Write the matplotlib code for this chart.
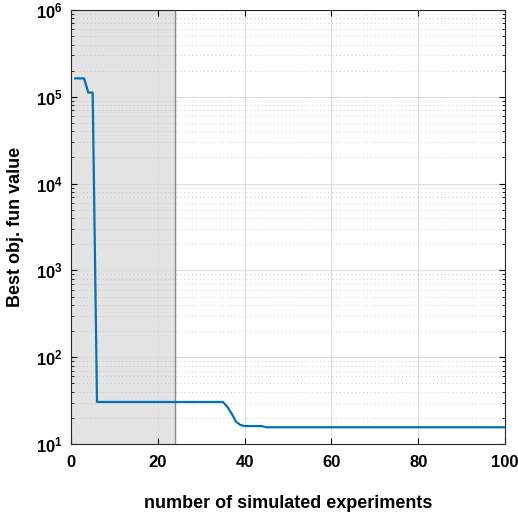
import matplotlib.pyplot as plt
from matplotlib.ticker import LogLocator, NullFormatter

plt.rcParams['font.family'] = ['Liberation Sans', 'DejaVu Sans']

# breakpoints of the best-so-far curve (linear in between)
exp_idx = [1, 3, 4, 5, 6, 35, 36, 37, 38, 39, 40, 44, 45, 100]
best_val = [1.63e5, 1.63e5, 1.12e5, 1.12e5, 30.5, 30.5, 26.9, 22.5, 18.1,
            16.6, 16.1, 16.1, 15.6, 15.6]

init_end = 24  # end of initial design phase

fig = plt.figure(figsize=(5.18, 5.16), dpi=100)
ax = fig.add_axes([0.137, 0.1395, 0.838, 0.8411])

ax.axvspan(0, init_end, color='#e3e3e3', zorder=0)
ax.axvline(init_end, color='#8c8c8c', lw=1.0, zorder=1)

ax.plot(exp_idx, best_val, color='#0072BD', lw=1.6, zorder=3)

ax.set_yscale('log')
ax.set_xlim(0, 100)
ax.set_ylim(10, 1e6)
ax.set_xticks([0, 20, 40, 60, 80, 100])
ax.yaxis.set_major_locator(LogLocator(base=10, numticks=10))
ax.yaxis.set_minor_locator(LogLocator(base=10, subs=range(2, 10), numticks=20))
ax.yaxis.set_minor_formatter(NullFormatter())

ax.grid(True, which='major', color='#dedede', lw=0.8)
ax.grid(True, which='minor', axis='y', color='#c8c8c8', lw=0.7, linestyle=(0, (1, 3)))
ax.set_axisbelow(True)

ax.tick_params(which='both', direction='in', top=True, right=True)
ax.tick_params(which='major', length=4, labelsize=12)
ax.tick_params(axis='x', which='major', pad=8)
ax.tick_params(axis='y', which='major', pad=6)
ax.tick_params(which='minor', length=2)
for lbl in ax.get_xticklabels() + ax.get_yticklabels():
    lbl.set_fontweight('bold')
for s in ax.spines.values():
    s.set_color('#262626')
    s.set_linewidth(0.8)

ax.set_xlabel('number of simulated experiments', fontsize=13, fontweight='bold', labelpad=18)
ax.set_ylabel('Best obj. fun value', fontsize=13, fontweight='bold', labelpad=8)

fig.savefig('out.png', dpi=100)
